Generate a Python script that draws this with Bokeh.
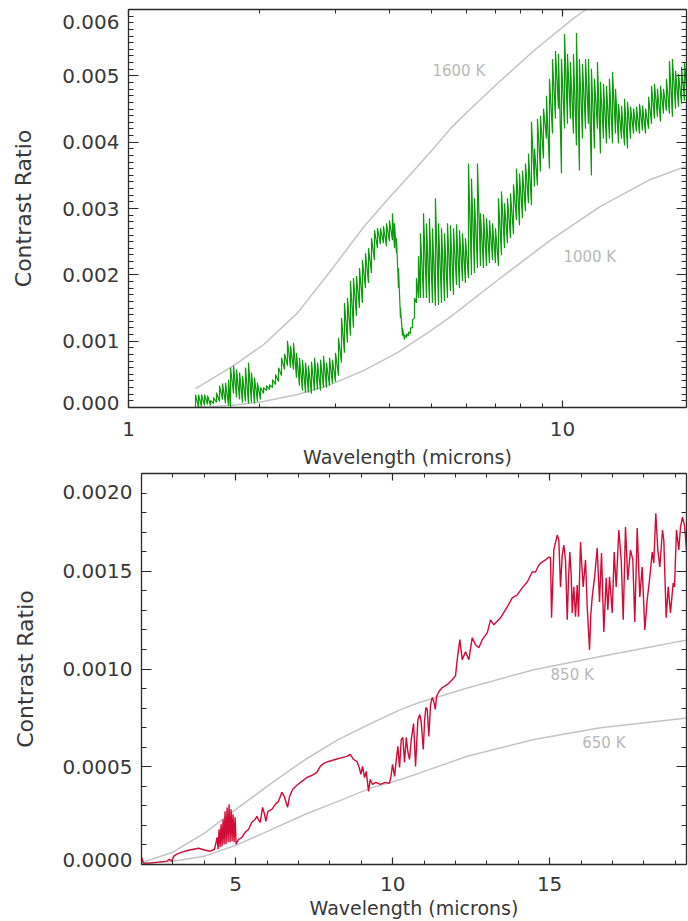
from bokeh.plotting import figure
from bokeh.layouts import column
from bokeh.models import (LinearAxis, LogAxis, FixedTicker, SingleIntervalTicker,
                          PrintfTickFormatter, Range1d)
from bokeh.embed import file_html
from bokeh.resources import INLINE
from bokeh.core.properties import value

# ---------------- upper panel: hot planet, log wavelength axis ----------------
green_wl = [1.427, 1.450, 1.473, 1.497, 1.521, 1.545, 1.570, 1.595, 1.621, 1.647, 1.673, 1.700,
            1.718, 1.746, 1.774, 1.803, 1.831, 1.860, 1.890, 1.920, 1.951, 1.982, 2.014,
            2.047, 2.080, 2.113, 2.147, 2.182, 2.217, 2.252, 2.288, 2.324, 2.362, 2.400, 2.438, 2.477,
            2.517, 2.558, 2.598, 2.640, 2.683, 2.726, 2.770, 2.814, 2.859, 2.905, 2.951, 2.999,
            3.047, 3.096, 3.145, 3.196, 3.247, 3.299, 3.352, 3.406, 3.460, 3.516, 3.573, 3.630,
            3.688, 3.747, 3.807, 3.868, 3.930, 3.993, 4.057,
            4.101, 4.145, 4.189, 4.233, 4.279, 4.324, 4.371, 4.417, 4.463, 4.511, 4.560, 4.608,
            4.658, 4.706,
            4.784, 4.861, 4.937, 5.017, 5.096, 5.180, 5.264, 5.348, 5.433, 5.518,
            5.609, 5.699, 5.790, 5.884, 5.976, 6.073, 6.171, 6.269, 6.370, 6.472,
            6.577, 6.682, 6.790, 6.899, 7.008, 7.121, 7.235, 7.351, 7.469, 7.589,
            7.711, 7.834, 7.960, 8.088, 8.217, 8.350, 8.484, 8.620, 8.758, 8.897,
            9.041, 9.186, 9.333, 9.484, 9.636, 9.790, 9.947, 10.11, 10.27, 10.43,
            10.60, 10.77, 10.94, 11.12, 11.30, 11.48, 11.66, 11.85, 12.04, 12.23,
            12.43, 12.63, 12.83, 13.04, 13.25, 13.46, 13.68, 13.90, 14.12, 14.35,
            14.58, 14.81, 15.05, 15.29, 15.54, 15.79, 16.04, 16.29, 16.55, 16.82,
            17.09, 17.36, 17.64, 17.92, 18.22, 18.51, 18.81, 19.10, 19.41]
green_hi = [0.000195, 0.000195, 0.000195, 0.000195, 0.000180, 0.000105, 0.000150,
            0.000225, 0.000330, 0.000360, 0.000375, 0.000420, 0.000601,
            0.000631, 0.000571, 0.000526, 0.000480, 0.000601, 0.000676, 0.000526, 0.000450, 0.000375, 0.000300,
            0.000300, 0.000330, 0.000345, 0.000420, 0.000496, 0.000601, 0.000751, 0.000811, 0.001006,
            0.000931, 0.000976, 0.000826, 0.000751,
            0.000721, 0.000676, 0.000631, 0.000691, 0.000751, 0.000676, 0.000721, 0.000781, 0.000676,
            0.000751, 0.000721, 0.000826,
            0.001051, 0.001351, 0.001577, 0.001652, 0.001907, 0.001952, 0.001982, 0.002102, 0.002222,
            0.002327, 0.002402, 0.002553, 0.002673, 0.002703, 0.002703, 0.002733, 0.002778, 0.002823, 0.002928,
            0.002778, 0.002553, 0.002102, 0.001502, 0.001201, 0.001096, 0.001111, 0.001141, 0.001201,
            0.001321, 0.001652, 0.001952, 0.002282, 0.002628,
            0.002928, 0.002778, 0.002853, 0.002703, 0.003153, 0.002778, 0.002703, 0.002628, 0.002778, 0.002748,
            0.002703, 0.002763, 0.002673, 0.002628, 0.002553, 0.003679, 0.003453, 0.003153, 0.003679, 0.002928,
            0.002913, 0.002853, 0.002823, 0.002778, 0.002703, 0.003153, 0.003258, 0.003078, 0.003153, 0.003228,
            0.003363, 0.003604, 0.003528, 0.003574, 0.003679, 0.003829, 0.004309, 0.003904, 0.004354, 0.004399,
            0.004505, 0.004700, 0.004955, 0.005255, 0.005375, 0.005330, 0.005255, 0.005631, 0.005330, 0.005210,
            0.005330, 0.005646, 0.005255, 0.005180, 0.005255, 0.005255, 0.005105, 0.004955, 0.005210, 0.004910,
            0.004880, 0.004850, 0.004955, 0.005060, 0.004805, 0.004580, 0.004550, 0.004655, 0.004610, 0.004535,
            0.004505, 0.004535, 0.004580, 0.004550, 0.004505, 0.004685, 0.004850, 0.004880, 0.004805, 0.004850,
            0.004805, 0.004955, 0.005225, 0.005255, 0.005075, 0.005030, 0.005135, 0.005210, 0.005405]
green_lo = [0.000000, 0.000000, 0.000015, 0.000030, 0.000045, 0.000030, 0.000060,
            0.000075, 0.000090, 0.000120, 0.000060, 0.000030, 0.000000,
            0.000210, 0.000150, 0.000120, 0.000075, 0.000090, 0.000060, 0.000075, 0.000060, 0.000090, 0.000120,
            0.000210, 0.000255, 0.000270, 0.000300, 0.000345, 0.000390, 0.000480, 0.000571, 0.000631,
            0.000601, 0.000571, 0.000450, 0.000330,
            0.000255, 0.000225, 0.000225, 0.000210, 0.000255, 0.000270, 0.000255, 0.000300, 0.000300,
            0.000330, 0.000360, 0.000390,
            0.000480, 0.000676, 0.000826, 0.000976, 0.001081, 0.001201, 0.001381, 0.001502, 0.001577,
            0.001802, 0.001877, 0.002027, 0.002222, 0.002402, 0.002462, 0.002477, 0.002432, 0.002508, 0.002523,
            0.002402, 0.002327, 0.001802, 0.001351, 0.001081, 0.001021, 0.001051, 0.001081, 0.001111,
            0.001201, 0.001351, 0.001577, 0.001652, 0.001652,
            0.001652, 0.001652, 0.001577, 0.001577, 0.001532, 0.001547, 0.001577, 0.001607, 0.001652, 0.001757,
            0.001697, 0.001847, 0.001802, 0.001907, 0.001877, 0.001952, 0.001997, 0.002027, 0.002102, 0.002132,
            0.002102, 0.002132, 0.002177, 0.002222, 0.002177, 0.002132, 0.002297, 0.002402, 0.002478, 0.002553,
            0.002613, 0.002823, 0.002748, 0.002853, 0.002958, 0.003078, 0.003048, 0.003333, 0.003348, 0.003559,
            0.003754, 0.004054, 0.003604, 0.004129, 0.004354, 0.004505, 0.003529, 0.004204, 0.004279, 0.004354,
            0.004129, 0.003949, 0.003574, 0.004054, 0.004204, 0.004279, 0.003498, 0.003904, 0.004204, 0.003829,
            0.004054, 0.003979, 0.004054, 0.003979, 0.004129, 0.003979, 0.004054, 0.003949, 0.003904, 0.004054,
            0.004129, 0.004159, 0.004129, 0.004174, 0.004129, 0.004204, 0.004279, 0.004354, 0.004384, 0.004309,
            0.004429, 0.004474, 0.004429, 0.004384, 0.004505, 0.004535, 0.004580, 0.004625, 0.004655]

bb1600_wl = [1.427, 1.718, 2.047, 2.452, 2.920, 3.479, 4.014, 4.233, 5.044, 5.518, 6.040,
             7.196, 8.575, 10.55, 11.30, 12.23]
bb1600_c = [0.000285, 0.000600, 0.000946, 0.001426, 0.002057, 0.002718, 0.003183, 0.003348,
            0.003904, 0.004204, 0.004459, 0.004925, 0.005375, 0.005856, 0.005996, 0.006200]
bb1000_wl = [1.427, 1.718, 2.047, 2.452, 2.920, 3.479, 4.168, 4.963, 5.518, 7.196, 9.384,
             12.23, 15.95, 19.51]
bb1000_c = [0.000005, 0.000030, 0.000090, 0.000195, 0.000345, 0.000556, 0.000826, 0.001156,
            0.001366, 0.001952, 0.002523, 0.003033, 0.003438, 0.003649]
top_labels = ["1600 K", "1000 K"]
top_label_wl = [5.017, 10.05]
top_label_c = [0.00507, 0.002265]

y1_ticks = [0.000, 0.001, 0.002, 0.003, 0.004, 0.005, 0.006]
# the end labels sit inside the frame height: the line break pushes them inwards
y1_end_labels = {0.000: "0.000\n", 0.006: "\n0.006"}

# ---------------- lower panel: cooler planet, linear wavelength axis ----------------
red_wl = [2.003, 2.067, 2.226, 2.545, 2.809, 2.885, 2.968, 3.022, 3.127, 3.287, 3.500, 3.659,
          3.818, 4.032, 4.191, 4.328,
          4.408, 4.439, 4.471, 4.503, 4.535, 4.567, 4.599, 4.631, 4.662, 4.694, 4.726, 4.758,
          4.790, 4.822, 4.854, 4.885, 4.917, 4.949, 4.981, 5.013,
          5.092, 5.197, 5.306, 5.411, 5.516, 5.624, 5.675, 5.752, 5.783, 5.857,
          5.920, 5.962, 6.025, 6.153, 6.261, 6.366, 6.471, 6.548, 6.653, 6.717,
          6.812, 6.949, 7.108, 7.268, 7.427, 7.586, 7.694, 7.799, 7.959, 8.172,
          8.382, 8.541, 8.650, 8.755, 8.860, 8.936, 8.987, 9.041, 9.105, 9.159,
          9.232, 9.287, 9.360, 9.465, 9.605, 9.764, 9.892, 9.943, 9.997, 10.061,
          10.115, 10.166, 10.220, 10.274, 10.325, 10.379, 10.433, 10.484, 10.538, 10.592,
          10.666, 10.729, 10.803, 10.866, 10.911, 10.975, 11.016, 11.057, 11.102, 11.153,
          11.207, 11.261, 11.312, 11.357, 11.398, 11.471, 11.580, 11.739, 11.898, 12.003,
          12.057, 12.140, 12.217, 12.322, 12.427, 12.535, 12.640, 12.745, 12.854, 13.013,
          13.118, 13.223, 13.436, 13.650, 13.809, 13.968, 14.127, 14.287, 14.446, 14.551,
          14.624, 14.710, 14.869, 14.975, 15.029, 15.061, 15.134, 15.242, 15.293, 15.347,
          15.401, 15.452, 15.506, 15.561, 15.602, 15.643, 15.688, 15.720, 15.771, 15.825,
          15.879, 15.920, 15.984, 16.025, 16.070, 16.143, 16.197, 16.271, 16.312, 16.357,
          16.430, 16.516, 16.589, 16.653, 16.726, 16.803, 16.854, 16.908, 16.994, 17.057,
          17.121, 17.204, 17.280, 17.344, 17.417, 17.490, 17.576, 17.650, 17.713, 17.790,
          17.873, 17.949, 18.032, 18.108, 18.182, 18.268, 18.318, 18.382, 18.446, 18.510,
          18.596, 18.637, 18.713, 18.777, 18.850, 18.936, 18.978, 19.041, 19.115, 19.169,
          19.232, 19.296, 19.360, 19.401]
red_c = [0.000037, 0.000007, 0.000007, 0.000012, 0.000017, 0.000027, 0.000017, 0.000042, 0.000053,
         0.000063, 0.000073, 0.000078, 0.000083, 0.000073, 0.000068, 0.000078,
         0.000139, 0.000078, 0.000180, 0.000088, 0.000206, 0.000093, 0.000231, 0.000104, 0.000272,
         0.000104, 0.000292, 0.000114, 0.000308, 0.000114, 0.000282, 0.000119, 0.000257, 0.000114,
         0.000241, 0.000104,
         0.000129, 0.000139, 0.000165, 0.000180, 0.000216, 0.000231, 0.000246, 0.000221, 0.000216, 0.000292,
         0.000257, 0.000221, 0.000272, 0.000282, 0.000308, 0.000323, 0.000369, 0.000348, 0.000292, 0.000348,
         0.000384, 0.000405, 0.000425, 0.000445, 0.000456, 0.000471, 0.000502, 0.000517, 0.000527, 0.000537,
         0.000547, 0.000553, 0.000563, 0.000537, 0.000527, 0.000496, 0.000461, 0.000502, 0.000445, 0.000476,
         0.000374, 0.000435, 0.000410, 0.000420, 0.000410, 0.000420, 0.000415, 0.000445, 0.000512, 0.000451,
         0.000537, 0.000604, 0.000496, 0.000639, 0.000650, 0.000522, 0.000650, 0.000578, 0.000537, 0.000639,
         0.000721, 0.000502, 0.000741, 0.000767, 0.000726, 0.000588, 0.000731, 0.000803, 0.000793, 0.000655,
         0.000818, 0.000854, 0.000833, 0.000793, 0.000859, 0.000884, 0.000905, 0.000920, 0.000945, 0.000966,
         0.001048, 0.001150, 0.001048, 0.001088, 0.001048, 0.001160, 0.001124, 0.001109, 0.001150, 0.001185,
         0.001251, 0.001226, 0.001262, 0.001318, 0.001364, 0.001379, 0.001415, 0.001445, 0.001496, 0.001496,
         0.001522, 0.001542, 0.001558, 0.001573, 0.001568, 0.001262, 0.001609, 0.001685, 0.001660, 0.001420,
         0.001583, 0.001634, 0.001558, 0.001252, 0.001456, 0.001598, 0.001481, 0.001287, 0.001420, 0.001267,
         0.001430, 0.001267, 0.001650, 0.001532, 0.001420, 0.001558, 0.001318, 0.001098, 0.001277, 0.001369,
         0.001466, 0.001619, 0.001343, 0.001593, 0.001190, 0.001466, 0.001302, 0.001471, 0.001287, 0.001598,
         0.001420, 0.001711, 0.001558, 0.001252, 0.001726, 0.001456, 0.001609, 0.001558, 0.001241, 0.001721,
         0.001369, 0.001522, 0.001200, 0.001354, 0.001456, 0.001598, 0.001542, 0.001797, 0.001609, 0.001522,
         0.001711, 0.001660, 0.001262, 0.001420, 0.001287, 0.001440, 0.001420, 0.001711, 0.001609, 0.001726,
         0.001777, 0.001736, 0.001609, 0.001507]

bb850_wl = [2.013, 2.968, 4.032, 5.006, 6.153, 7.217, 8.277, 9.338, 10.252, 10.825, 12.376,
            14.497, 16.621, 19.424]
bb850_c = [0.000010, 0.000061, 0.000163, 0.000282, 0.000418, 0.000537, 0.000640, 0.000724,
           0.000792, 0.000827, 0.000903, 0.000996, 0.001064, 0.001150]
bb650_wl = [2.013, 2.968, 4.032, 5.092, 6.153, 7.217, 8.277, 9.338, 10.252, 10.825, 12.376,
            14.497, 16.621, 19.424]
bb650_c = [0.000005, 0.000015, 0.000044, 0.000104, 0.000180, 0.000257, 0.000324, 0.000393,
           0.000435, 0.000466, 0.000554, 0.000639, 0.000699, 0.000750]
bottom_labels = ["850 K", "650 K"]
bottom_label_wl = [15.03, 16.04]
bottom_label_c = [0.000971, 0.000621]

y2_ticks = [0.0000, 0.0005, 0.0010, 0.0015, 0.0020]
y2_end_labels = {0.0000: "0.0000\n", 0.0020: "\n0.0020"}

FONT = "DejaVu Sans"
AXIS_COLOR = "#2a2a2a"
LABEL_COLOR = "#383838"
GREY_CURVE = "#c4c4c4"
GREY_TEXT = "#b9b9b9"


def style_axis(ax, major_len, minor_len, show_labels=True, label_standoff=9):
    ax.axis_line_color = AXIS_COLOR
    ax.axis_line_width = 1.3
    ax.major_tick_line_color = AXIS_COLOR
    ax.minor_tick_line_color = AXIS_COLOR
    ax.major_tick_line_width = 1.2
    ax.minor_tick_line_width = 1.0
    ax.major_tick_in = major_len
    ax.major_tick_out = 0
    ax.minor_tick_in = minor_len
    ax.minor_tick_out = 0
    ax.major_label_text_font = FONT
    ax.major_label_text_color = LABEL_COLOR
    ax.axis_label_text_font = FONT
    ax.axis_label_text_font_style = "normal"
    ax.axis_label_text_color = LABEL_COLOR
    if show_labels:
        ax.major_label_text_font_size = "20px"
        ax.major_label_standoff = label_standoff
    else:
        # mirrored frame edge: ticks only
        ax.major_label_text_font_size = "1px"
        ax.major_label_text_alpha = 0
        ax.major_label_standoff = 0


def zigzag(wl, lo, hi):
    xs, ys = [], []
    for w, a, b in zip(wl, lo, hi):
        xs += [w, w]
        ys += [a, b]
    return xs, ys


# ---------- upper figure ----------
p1 = figure(x_axis_type="log", x_range=Range1d(1, 19.31), y_range=Range1d(0, 0.006),
            width=688, height=470,
            min_border_left=128, min_border_right=2, min_border_top=9, min_border_bottom=61,
            output_backend="svg", toolbar_location=None)
p1.frame_align = False
p1.grid.visible = False
p1.outline_line_color = None

log_ticker = FixedTicker(ticks=[1, 10], minor_ticks=[2, 3, 4, 5, 6, 7, 8, 9])
p1.xaxis.ticker = log_ticker
p1.xaxis.formatter = PrintfTickFormatter(format="%d")
p1.xaxis.axis_label = "Wavelength (microns)"
p1.xaxis.axis_label_text_font_size = "19px"
p1.xaxis.axis_label_standoff = 7
style_axis(p1.xaxis[0], 7, 4, label_standoff=14)

y1_minor = [round(i * 0.0001, 4) for i in range(61)]
y1_ticker = FixedTicker(ticks=y1_ticks, minor_ticks=y1_minor)
p1.yaxis.ticker = y1_ticker
p1.yaxis.formatter = PrintfTickFormatter(format="%.3f")
p1.yaxis.major_label_overrides = y1_end_labels
p1.yaxis.major_label_text_line_height = 0.4
p1.yaxis.axis_label = "Contrast Ratio"
p1.yaxis.axis_label_text_font_size = "22px"
p1.yaxis.axis_label_standoff = 23
style_axis(p1.yaxis[0], 10, 5)

top1 = LogAxis(ticker=log_ticker)
style_axis(top1, 7, 4, show_labels=False)
p1.add_layout(top1, "above")
right1 = LinearAxis(ticker=y1_ticker)
style_axis(right1, 10, 5, show_labels=False)
p1.add_layout(right1, "right")

p1.line(bb1600_wl, bb1600_c, line_color=GREY_CURVE, line_width=1.5)
p1.line(bb1000_wl, bb1000_c, line_color=GREY_CURVE, line_width=1.5)
gx, gy = zigzag(green_wl, green_lo, green_hi)
p1.line(gx, gy, line_color="#0e990e", line_width=1.2)
p1.text(top_label_wl, top_label_c, text=top_labels, text_font=value(FONT),
        text_font_size="15px", text_color=GREY_TEXT, text_align="left", text_baseline="middle")

# ---------- lower figure ----------
p2 = figure(x_range=Range1d(2, 19.36), y_range=Range1d(0, 0.002),
            width=688, height=451,
            min_border_left=141, min_border_right=2, min_border_top=3, min_border_bottom=56,
            output_backend="svg", toolbar_location=None)
p2.frame_align = False
p2.grid.visible = False
p2.outline_line_color = None

x2_ticker = SingleIntervalTicker(interval=5, num_minor_ticks=5)
p2.xaxis.ticker = x2_ticker
p2.xaxis.formatter = PrintfTickFormatter(format="%d")
p2.xaxis.axis_label = "Wavelength (microns)"
p2.xaxis.axis_label_text_font_size = "19px"
p2.xaxis.axis_label_standoff = 3
style_axis(p2.xaxis[0], 7, 4, label_standoff=12)

y2_minor = [round(i * 0.0001, 4) for i in range(21)]
y2_ticker = FixedTicker(ticks=y2_ticks, minor_ticks=y2_minor)
p2.yaxis.ticker = y2_ticker
p2.yaxis.formatter = PrintfTickFormatter(format="%.4f")
p2.yaxis.major_label_overrides = y2_end_labels
p2.yaxis.major_label_text_line_height = 0.4
p2.yaxis.axis_label = "Contrast Ratio"
p2.yaxis.axis_label_text_font_size = "22px"
p2.yaxis.axis_label_standoff = 22
style_axis(p2.yaxis[0], 10, 5)

top2 = LinearAxis(ticker=x2_ticker)
style_axis(top2, 7, 4, show_labels=False)
p2.add_layout(top2, "above")
right2 = LinearAxis(ticker=y2_ticker)
style_axis(right2, 10, 5, show_labels=False)
p2.add_layout(right2, "right")

p2.line(bb850_wl, bb850_c, line_color=GREY_CURVE, line_width=1.5)
p2.line(bb650_wl, bb650_c, line_color=GREY_CURVE, line_width=1.5)
p2.line(red_wl, red_c, line_color="#d20a36", line_width=1.4)
p2.text(bottom_label_wl, bottom_label_c, text=bottom_labels, text_font=value(FONT),
        text_font_size="15px", text_color=GREY_TEXT, text_align="left", text_baseline="middle")

layout = column(p1, p2, spacing=0)
open("out.html", "w").write(file_html(layout, INLINE))
